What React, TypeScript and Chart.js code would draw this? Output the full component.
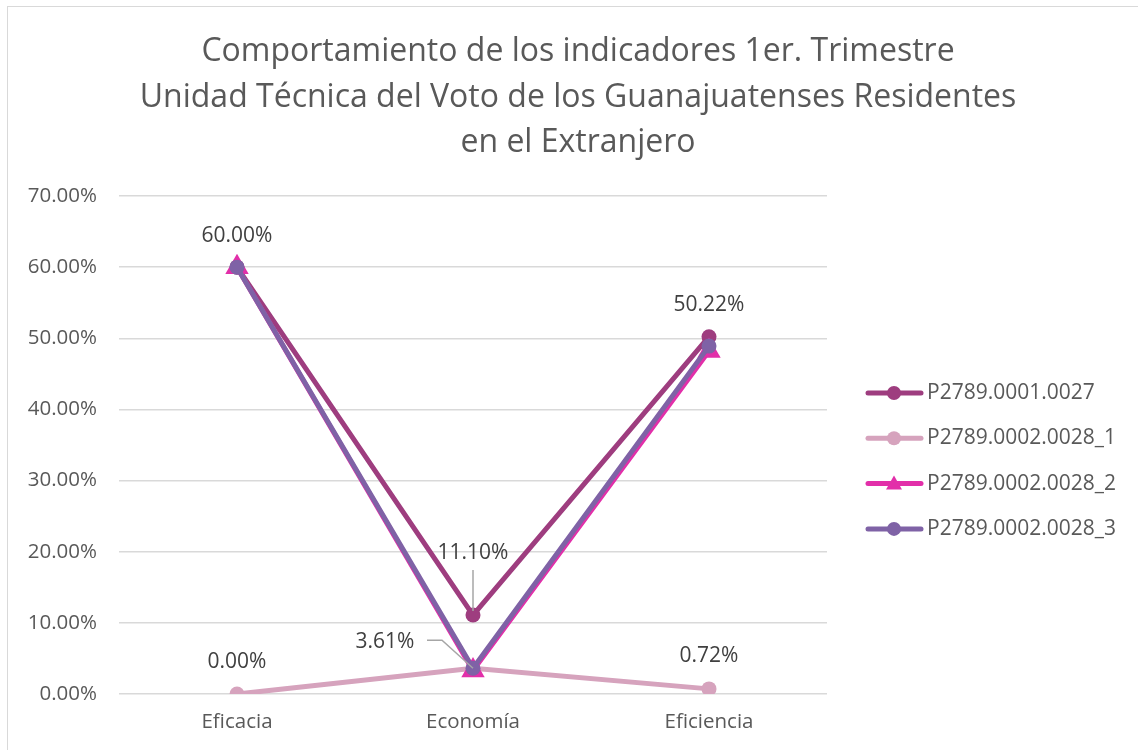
import React, { useEffect, useRef } from "react";
import { Chart, registerables } from "chart.js";

Chart.register(...registerables);

const categories = ["Eficacia", "Economía", "Eficiencia"];
const seriesNames = ["P2789.0001.0027", "P2789.0002.0028_1", "P2789.0002.0028_2", "P2789.0002.0028_3"];
const s1 = [60.0, 11.1, 50.22];
const s2 = [0.0, 3.61, 0.72];
const s3 = [60.0, 3.3, 48.2];
const s4 = [60.0, 3.61, 48.9];
const titleLines = [
  "Comportamiento de los indicadores 1er. Trimestre",
  "Unidad Técnica del Voto de los Guanajuatenses Residentes",
  "en el Extranjero",
];
const yTicks = [0, 10, 20, 30, 40, 50, 60, 70];

const colors = ["#9E3D7F", "#D6A3BD", "#E22FA9", "#7F62A6"];
const markers = ["circle", "circle", "triangle", "circle"];
const FONT = "'Open Sans', 'Liberation Sans', sans-serif";

export default function App() {
  const ref = useRef<HTMLCanvasElement | null>(null);

  useEffect(() => {
    document.body.style.margin = "0";
    const canvas = ref.current!;
    const fmt = (v: number) => v.toFixed(2) + "%";

    const overlay = {
      id: "overlay",
      afterDraw(chart: any) {
        const ctx = chart.ctx as CanvasRenderingContext2D;
        const xs = chart.scales.x;
        const ys = chart.scales.y;
        ctx.save();
        // frame
        ctx.strokeStyle = "#d9d9d9";
        ctx.lineWidth = 1;
        ctx.strokeRect(7.5, 6.5, 1300, 900);
        // title
        ctx.fillStyle = "#595959";
        ctx.font = `32px ${FONT}`;
        ctx.textAlign = "center";
        ctx.textBaseline = "middle";
        titleLines.forEach((t, i) => ctx.fillText(t, 578, 52 + i * 45.5));
        // legend
        const sets = chart.data.datasets;
        sets.forEach((ds: any, i: number) => {
          const y = 393 + i * 45.3;
          ctx.strokeStyle = colors[i];
          ctx.lineWidth = 5;
          ctx.lineCap = "round";
          ctx.beginPath();
          ctx.moveTo(868, y);
          ctx.lineTo(921, y);
          ctx.stroke();
          ctx.fillStyle = colors[i];
          if (markers[i] === "triangle") {
            ctx.beginPath();
            ctx.moveTo(894, y - 8);
            ctx.lineTo(902, y + 6);
            ctx.lineTo(886, y + 6);
            ctx.closePath();
            ctx.fill();
          } else {
            ctx.beginPath();
            ctx.arc(894, y, 7, 0, Math.PI * 2);
            ctx.fill();
          }
          ctx.fillStyle = "#595959";
          ctx.font = `21px ${FONT}`;
          ctx.textAlign = "left";
          ctx.textBaseline = "middle";
          ctx.fillText(ds.label, 927, y);
        });
        // data labels
        ctx.font = `21px ${FONT}`;
        ctx.fillStyle = "#404040";
        ctx.textAlign = "center";
        ctx.textBaseline = "middle";
        const lab = (vals: number[], idx: number, dx: number, dy: number) => {
          const px = xs.getPixelForValue(idx);
          const py = ys.getPixelForValue(vals[idx]);
          const tx = px + dx;
          const ty = py + dy;
          ctx.fillStyle = "#404040";
          ctx.fillText(fmt(vals[idx]), tx, ty);
          return { px, py, tx, ty };
        };
        lab(s1, 0, 0, -31);
        const a = lab(s1, 1, 0, -62);
        lab(s1, 2, 0, -32);
        lab(s2, 0, 0, -32);
        const b = lab(s2, 1, -88, -26);
        lab(s2, 2, 0, -33);
        ctx.strokeStyle = "#a6a6a6";
        ctx.lineWidth = 1.5;
        ctx.lineCap = "butt";
        ctx.beginPath();
        ctx.moveTo(a.px, a.ty + 17);
        ctx.lineTo(a.px, a.py - 4);
        ctx.stroke();
        ctx.beginPath();
        ctx.moveTo(b.tx + 42, b.ty - 2);
        ctx.lineTo(b.tx + 57, b.ty - 2);
        ctx.lineTo(b.px, b.py);
        ctx.stroke();
        ctx.restore();
      },
    };

    const mk = (i: number, data: number[], order: number) => ({
      label: seriesNames[i],
      data,
      borderColor: colors[i],
      backgroundColor: colors[i],
      borderWidth: 5,
      pointStyle: markers[i],
      pointRadius: markers[i] === "triangle" ? 13.5 : 7.5,
      pointBorderWidth: 0,
      pointBackgroundColor: colors[i],
      tension: 0,
      order,
    });

    const chart = new Chart(canvas, {
      type: "line",
      data: {
        labels: categories,
        datasets: [mk(0, s1, 4), mk(1, s2, 3), mk(2, s3, 2), mk(3, s4, 1)],
      },
      options: {
        animation: false,
        responsive: false,
        maintainAspectRatio: false,
        layout: { padding: { top: 196, right: 311, left: 0, bottom: 0 } },
        plugins: { legend: { display: false }, title: { display: false }, tooltip: { enabled: false } },
        scales: {
          x: {
            offset: true,
            grid: { display: false, drawTicks: false },
            border: { display: false },
            ticks: { color: "#595959", font: { family: FONT, size: 20.5 }, padding: 16 },
            afterFit: (s: any) => { s.height = 56; },
          },
          y: {
            min: 0,
            max: 70,
            afterBuildTicks: (s: any) => { s.ticks = yTicks.map((v) => ({ value: v })); },
            grid: { color: "#d9d9d9", lineWidth: 1.5, drawTicks: false },
            border: { display: false },
            ticks: { color: "#595959", font: { family: FONT, size: 20.5 }, padding: 22, callback: (v: any) => fmt(Number(v)) },
            afterFit: (s: any) => { s.width = 119; },
          },
        },
      },
      plugins: [overlay],
    } as any);
    return () => chart.destroy();
  }, []);

  return (
    <div style={{ position: "relative", width: 1138, height: 750 }}>
      <canvas ref={ref} width={1138} height={750} style={{ display: "block" }} />
    </div>
  );
}
